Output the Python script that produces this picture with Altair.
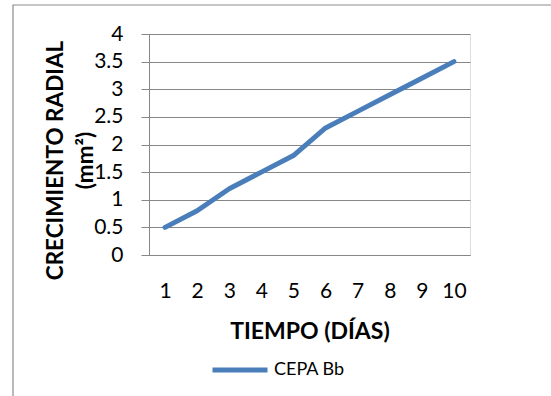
import altair as alt
import pandas as pd

dias = [1, 2, 3, 4, 5, 6, 7, 8, 9, 10]
crecimiento = [0.5, 0.8, 1.2, 1.5, 1.8, 2.3, 2.6, 2.9, 3.2, 3.5]
serie = "CEPA Bb"
y_ticks = [0, 0.5, 1, 1.5, 2, 2.5, 3, 3.5, 4]

df = pd.DataFrame({"dia": dias, "valor": crecimiento, "serie": [serie] * len(dias)})

FONT = "Lato"
GRAY = "#878787"
BLUE = "#4A7EBB"

border = alt.Chart(alt.Data(values=[{"a": 1}])).mark_rect(
    fill=None, stroke="#8C8C8C", strokeWidth=1.2
).encode(
    x=alt.value(-136), x2=alt.value(420),
    y=alt.value(-29), y2=alt.value(400),
)

line = alt.Chart(df).mark_line(strokeWidth=5, strokeCap="round", strokeJoin="round").encode(
    x=alt.X("dia:O", sort=dias, scale=alt.Scale(type="point", padding=0.5),
            axis=alt.Axis(title="TIEMPO (DÍAS)", labelAngle=0, ticks=False, tickSize=0,
                          labelPadding=36, labelBaseline="middle",
                          labelFontSize=21, labelFont=FONT, labelColor="black",
                          domainColor=GRAY, domainWidth=1,
                          titleFont=FONT, titleFontSize=23, titleFontWeight="bold",
                          titleColor="black", titleY=76, titleBaseline="middle")),
    y=alt.Y("valor:Q", scale=alt.Scale(domain=[0, 4], nice=False),
            axis=alt.Axis(values=y_ticks, format="~g", title=["CRECIMIENTO RADIAL", "(mm²)"],
                          tickSize=8, tickColor=GRAY, labelPadding=18,
                          labelFontSize=21, labelFont=FONT, labelColor="black",
                          labelBaseline="middle",
                          domainColor=GRAY, gridColor=GRAY, gridWidth=1,
                          titleFont=FONT, titleFontSize=22.5, titleFontWeight="bold",
                          titleColor="black", titleX=-87, titleY=126,
                          titleAngle=270, titleAlign="center", titleBaseline="alphabetic",
                          titleLineHeight=30)),
    color=alt.Color("serie:N", scale=alt.Scale(range=[BLUE]),
                    legend=alt.Legend(title=None, orient="none", legendX=61, legendY=306,
                                      symbolType="stroke", symbolSize=3025, symbolStrokeWidth=5,
                                      labelFont=FONT, labelFontSize=18, labelColor="black",
                                      labelOffset=4, padding=0)),
)

chart = alt.layer(border, line).properties(
    width=321, height=221,
    autosize=alt.AutoSizeParams(type="none"),
    padding={"left": 149, "top": 34, "right": 81, "bottom": 141},
).configure_view(stroke=None).configure(background="white")

chart.save("out.html", embed_options={"renderer": "svg", "actions": False})
